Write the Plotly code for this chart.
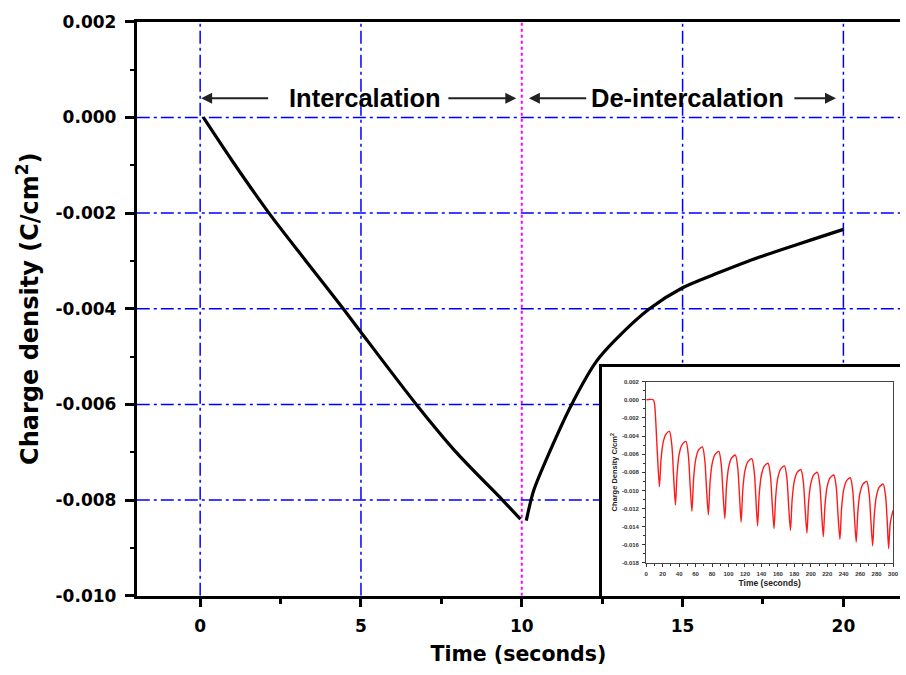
import plotly.graph_objects as go

# ---------------- data ----------------
# main curve: intercalation (0-10 s)
intercal_t = [0.1, 1.0, 2.14, 3.3, 4.45, 5.0, 6.72, 8.0, 9.40, 9.96]
intercal_q = [0.0, -0.00091, -0.002, -0.00301, -0.004, -0.00449, -0.006, -0.00703, -0.008, -0.0084]
# main curve: de-intercalation (10-20 s)
deint_t = [10.14, 10.37, 10.88, 11.55, 12.32, 12.94, 13.97, 15.0, 16.03, 17.06, 18.09, 19.0, 20.0]
deint_q = [-0.00843, -0.0078, -0.00697, -0.006, -0.0051, -0.00463, -0.004, -0.00356, -0.00327,
           -0.003, -0.00276, -0.00256, -0.00234]

# inset: repeated cycles over 300 s
inset_t = [0, 8.5, 10, 13, 16.0,
           18, 20.5, 24, 28.2, 31.2, 33.2, 35.5,
           37.5, 40, 43.5, 48.2, 51.2, 53.2, 55.5,
           57.5, 60, 63.5, 68.2, 71.2, 73.2, 75.5,
           77.5, 80, 83.5, 88.2, 91.2, 93.2, 95.5,
           97.5, 100, 103.5, 108.3, 111.3, 113.3, 115.3,
           117.3, 119.8, 123.3, 128.3, 131.3, 133.3, 135.3,
           137.3, 139.8, 143.3, 148.0, 151.0, 153.0, 155.3,
           157.3, 159.8, 163.3, 168.0, 171.0, 173.0, 175.3,
           177.3, 179.8, 183.3, 188.0, 191.0, 193.0, 195.3,
           197.3, 199.8, 203.3, 208.0, 211.0, 213.0, 215.2,
           217.2, 219.7, 223.2, 228.0, 231.0, 233.0, 235.4,
           237.4, 239.9, 243.4, 248.0, 251.0, 253.0, 255.2,
           257.2, 259.7, 263.2, 268.0, 271.0, 273.0, 275.2,
           277.2, 279.7, 283.2, 288.0, 291.0, 293.0, 294.6,
           296.6, 300]
inset_q = [0.0, 0.0, -0.0004, -0.0050, -0.0096,
           -0.00655, -0.00472, -0.0038, -0.0035, -0.00512, -0.00836, -0.0116,
           -0.0081, -0.0060, -0.00495, -0.0046, -0.00614, -0.00922, -0.0123,
           -0.00875, -0.00662, -0.00555, -0.0052, -0.0067, -0.0097, -0.0127,
           -0.0092, -0.0071, -0.00605, -0.0057, -0.00718, -0.01014, -0.0131,
           -0.0096, -0.0075, -0.00645, -0.0061, -0.00758, -0.01054, -0.0135,
           -0.0100, -0.0079, -0.00685, -0.0065, -0.00798, -0.01094, -0.0139,
           -0.01045, -0.00838, -0.00734, -0.0070, -0.00844, -0.01132, -0.0142,
           -0.01075, -0.00868, -0.00764, -0.0073, -0.00872, -0.01156, -0.0144,
           -0.01105, -0.00904, -0.00803, -0.0077, -0.0091, -0.0119, -0.0147,
           -0.01135, -0.00934, -0.00833, -0.0080, -0.00942, -0.01226, -0.0151,
           -0.0117, -0.00966, -0.00864, -0.0083, -0.00972, -0.01256, -0.0154,
           -0.0120, -0.00996, -0.00894, -0.0086, -0.01002, -0.01286, -0.0157,
           -0.01235, -0.01034, -0.00933, -0.0090, -0.01042, -0.01326, -0.0161,
           -0.0127, -0.01066, -0.00964, -0.0093, -0.01072, -0.01356, -0.0164,
           -0.0136, -0.0122]

x_ticks = [0, 5, 10, 15, 20]
x_ticktext = ["0", "5", "10", "15", "20"]
y_ticks = [0.002, 0.0, -0.002, -0.004, -0.006, -0.008, -0.010]
y_ticktext = ["0.002", "0.000", "-0.002", "-0.004", "-0.006", "-0.008", "-0.010"]
grid_x_blue = [0, 5, 15, 20]
grid_x_magenta = [10]
grid_y = [0.0, -0.002, -0.004, -0.006, -0.008]

inset_x_ticks = list(range(0, 301, 20))
inset_y_ticks = [0.002, 0.0, -0.002, -0.004, -0.006, -0.008, -0.010, -0.012, -0.014, -0.016, -0.018]
inset_y_ticktext = ["0.002", "0.000", "-0.002", "-0.004", "-0.006", "-0.008", "-0.010",
                    "-0.012", "-0.014", "-0.016", "-0.018"]

X_RANGE = [-1.97, 21.76]
Y_RANGE = [-0.010, 0.002]
FONT = "Liberation Sans, Arial, sans-serif"
WIDE = "DejaVu Sans, Verdana, sans-serif"
W, H = 906, 675

def px_x(p):
    return p / W

def px_y(p):
    return (H - p) / H

fig = go.Figure()

for tt, qq in ((intercal_t, intercal_q), (deint_t, deint_q)):
    fig.add_trace(go.Scatter(x=tt, y=qq, mode="lines",
                             line=dict(color="black", width=3.2, shape="spline", smoothing=0.8),
                             showlegend=False, hoverinfo="skip"))
# empty trace for the inset frame subplot
fig.add_trace(go.Scatter(x=[], y=[], xaxis="x2", yaxis="y2", showlegend=False, hoverinfo="skip"))
fig.add_trace(go.Scatter(x=inset_t, y=inset_q, xaxis="x3", yaxis="y3", mode="lines",
                         line=dict(color="#ff1a1a", width=1.4, shape="spline", smoothing=0.7),
                         showlegend=False, hoverinfo="skip"))

DASHDOT = "13px,4px,3px,4px"
shapes = []
for gx in grid_x_blue:
    shapes.append(dict(type="line", xref="x", yref="y", x0=gx, x1=gx, y0=Y_RANGE[0], y1=Y_RANGE[1],
                       line=dict(color="#0000ff", width=1.5, dash=DASHDOT), layer="below"))
for gx in grid_x_magenta:
    shapes.append(dict(type="line", xref="x", yref="y", x0=gx, x1=gx, y0=Y_RANGE[0], y1=Y_RANGE[1],
                       line=dict(color="#ff00ff", width=2, dash="3px,3px"), layer="below"))
for gy in grid_y:
    shapes.append(dict(type="line", xref="x", yref="y", x0=X_RANGE[0], x1=X_RANGE[1], y0=gy, y1=gy,
                       line=dict(color="#0000ff", width=1.5, dash=DASHDOT), layer="below"))

label_y = 0.0004
annotations = [
    dict(x=5.12, y=label_y, xref="x", yref="y", text="Intercalation", showarrow=False,
         font=dict(family=FONT, size=25.5, color="black", weight="bold")),
    dict(x=15.16, y=label_y, xref="x", yref="y", text="De-intercalation", showarrow=False,
         font=dict(family=FONT, size=25.5, color="black", weight="bold")),
]
arrows = [(0.03, 2.16), (9.83, 7.67), (10.22, 12.05), (19.77, 18.43)]
for head, tail in arrows:
    annotations.append(dict(x=head, y=label_y, ax=tail, ay=label_y, xref="x", yref="y",
                            axref="x", ayref="y", text="", showarrow=True,
                            arrowhead=2, arrowsize=1.1, arrowwidth=2, arrowcolor="#222"))

tickfont = dict(family=WIDE, size=17, color="black", weight="bold")
inset_font = dict(family=FONT, size=6, color="#333", weight="bold")

fig.update_layout(
    width=W, height=H,
    margin=dict(l=0, r=0, t=0, b=0),
    paper_bgcolor="white", plot_bgcolor="white",
    shapes=shapes, annotations=annotations,
    xaxis=dict(domain=[px_x(136), 1.0], range=X_RANGE, anchor="y",
               tickvals=x_ticks, ticktext=x_ticktext, ticks="outside", ticklen=8, tickwidth=3,
               tickcolor="black", showline=True, linewidth=3, linecolor="black", mirror=True,
               showgrid=False, zeroline=False, tickfont=tickfont, ticklabelstandoff=5,
               minor=dict(dtick=2.5, tick0=0, ticks="outside", ticklen=5, tickwidth=3, tickcolor="black", showgrid=False),
               title=dict(text="Time (seconds)", standoff=12,
                          font=dict(family=WIDE, size=20.5, color="black", weight="bold")),
               automargin=False),
    yaxis=dict(domain=[px_y(598), px_y(19)], range=Y_RANGE, anchor="x",
               tickvals=y_ticks, ticktext=y_ticktext, ticks="outside", ticklen=9, tickwidth=3,
               tickcolor="black", showline=True, linewidth=3, linecolor="black", mirror=False,
               showgrid=False, zeroline=False, tickfont=tickfont, ticklabelstandoff=5,
               minor=dict(dtick=0.001, tick0=0, ticks="outside", ticklen=4, tickwidth=2, tickcolor="black", showgrid=False),
               title=dict(text="Charge density (C/cm<sup>2</sup>)", standoff=11,
                          font=dict(family=WIDE, size=24, color="black", weight="bold")),
               automargin=False),
    # inset frame
    xaxis2=dict(domain=[px_x(605), 1.0], range=[0, 1], anchor="y2", showline=True, mirror=True,
                linewidth=3, linecolor="black", showticklabels=False, ticks="", showgrid=False,
                zeroline=False, fixedrange=True),
    yaxis2=dict(domain=[px_y(598), px_y(367)], range=[0, 1], anchor="x2", showline=True, mirror=False,
                linewidth=3, linecolor="black", showticklabels=False, ticks="", showgrid=False,
                zeroline=False, fixedrange=True),
    # inset plot
    xaxis3=dict(domain=[px_x(650), px_x(899)], range=[0, 300], anchor="y3",
                tickvals=inset_x_ticks, ticks="outside", ticklen=3, tickwidth=1, tickcolor="#333",
                showline=True, mirror=True, linewidth=1.2, linecolor="#444", showgrid=False, zeroline=False,
                tickfont=inset_font, ticklabelstandoff=2,
                minor=dict(dtick=10, tick0=0, ticks="outside", ticklen=2, tickwidth=1, tickcolor="#333", showgrid=False),
                title=dict(text="Time (seconds)", standoff=3,
                           font=dict(family=FONT, size=8.5, color="#222", weight="bold"))),
    yaxis3=dict(domain=[px_y(565), px_y(382)], range=[-0.018, 0.002], anchor="x3",
                tickvals=inset_y_ticks, ticktext=inset_y_ticktext, ticks="outside", ticklen=3, tickwidth=1,
                tickcolor="#333", showline=True, mirror=True, linewidth=1.2, linecolor="#444",
                showgrid=False, zeroline=False, tickfont=inset_font, ticklabelstandoff=2,
                minor=dict(dtick=0.001, tick0=0, ticks="outside", ticklen=2, tickwidth=1, tickcolor="#333", showgrid=False),
                title=dict(text="Charge Density C/cm<sup>2</sup>", standoff=3,
                           font=dict(family=FONT, size=7.5, color="#222", weight="bold"))),
)

fig.write_html("out.html")
